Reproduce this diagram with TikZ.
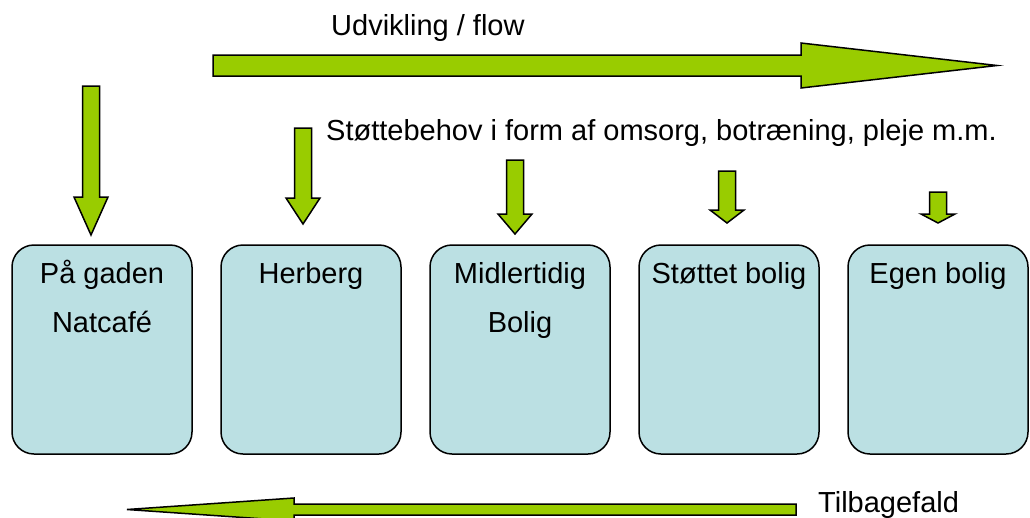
\documentclass[tikz,border=0pt]{standalone}
\usepackage{fontspec}
\setmainfont{Liberation Sans}
\definecolor{arrowgreen}{HTML}{99CC00}
\definecolor{boxblue}{HTML}{BBE0E3}
\begin{document}
\begin{tikzpicture}[x=1pt,y=-1pt,
  blockarrow/.style={fill=arrowgreen,draw=black,line width=1.5pt,line join=miter},
  stagebox/.style={rectangle,rounded corners=22pt,fill=boxblue,draw=black,line width=1.5pt,minimum width=180pt,minimum height=209pt,inner sep=0pt},
  boxtext/.style={font=\fontsize{29}{35}\selectfont,anchor=base,inner sep=0pt},
  plaintext/.style={font=\fontsize{29}{35}\selectfont,anchor=base west,inner sep=0pt}]
\useasboundingbox (0,0) rectangle (1030,517);

% top flow arrow
\draw[blockarrow] (213,55) -- (801,55) -- (801,43) -- (997,65.5) -- (801,88) -- (801,76) -- (213,76) -- cycle;
\node[plaintext] (flow) at (331,35) {Udvikling / flow};

% support text
\node[plaintext] (stotte) at (326,140) {Støttebehov i form af omsorg, botræning, pleje m.m.};

% down arrows (decreasing)
\draw[blockarrow] (82.5,86) -- (99.5,86) -- (99.5,197) -- (108,197) -- (91,235) -- (74,197) -- (82.5,197) -- cycle;
\draw[blockarrow] (294.5,128) -- (311.5,128) -- (311.5,198) -- (320,198) -- (303,224) -- (286,198) -- (294.5,198) -- cycle;
\draw[blockarrow] (506.5,160) -- (523.5,160) -- (523.5,214) -- (532,214) -- (515,234) -- (498,214) -- (506.5,214) -- cycle;
\draw[blockarrow] (718.5,171) -- (735.5,171) -- (735.5,210) -- (744,210) -- (727,223) -- (710,210) -- (718.5,210) -- cycle;
\draw[blockarrow] (929.5,192) -- (946.5,192) -- (946.5,214) -- (955,214) -- (938,223) -- (921,214) -- (929.5,214) -- cycle;

% stage boxes
\node[stagebox] (b1) at (102,349.5) {};
\node[stagebox] (b2) at (311,349.5) {};
\node[stagebox] (b3) at (520,349.5) {};
\node[stagebox] (b4) at (729,349.5) {};
\node[stagebox] (b5) at (938,349.5) {};

\node[boxtext] (t1a) at (102,283) {På gaden};
\node[boxtext] (t1b) at (102,332) {Natcafé};
\node[boxtext] (t2) at (311,283) {Herberg};
\node[boxtext] (t3a) at (520,283) {Midlertidig};
\node[boxtext] (t3b) at (520,332) {Bolig};
\node[boxtext] (t4) at (729,283) {Støttet bolig};
\node[boxtext] (t5) at (938,283) {Egen bolig};

% bottom relapse arrow
\draw[blockarrow] (796,504) -- (294,504) -- (294,498) -- (127,509.5) -- (294,521) -- (294,515) -- (796,515) -- cycle;
\node[plaintext] (tilbage) at (818,512) {Tilbagefald};
\end{tikzpicture}
\end{document}
